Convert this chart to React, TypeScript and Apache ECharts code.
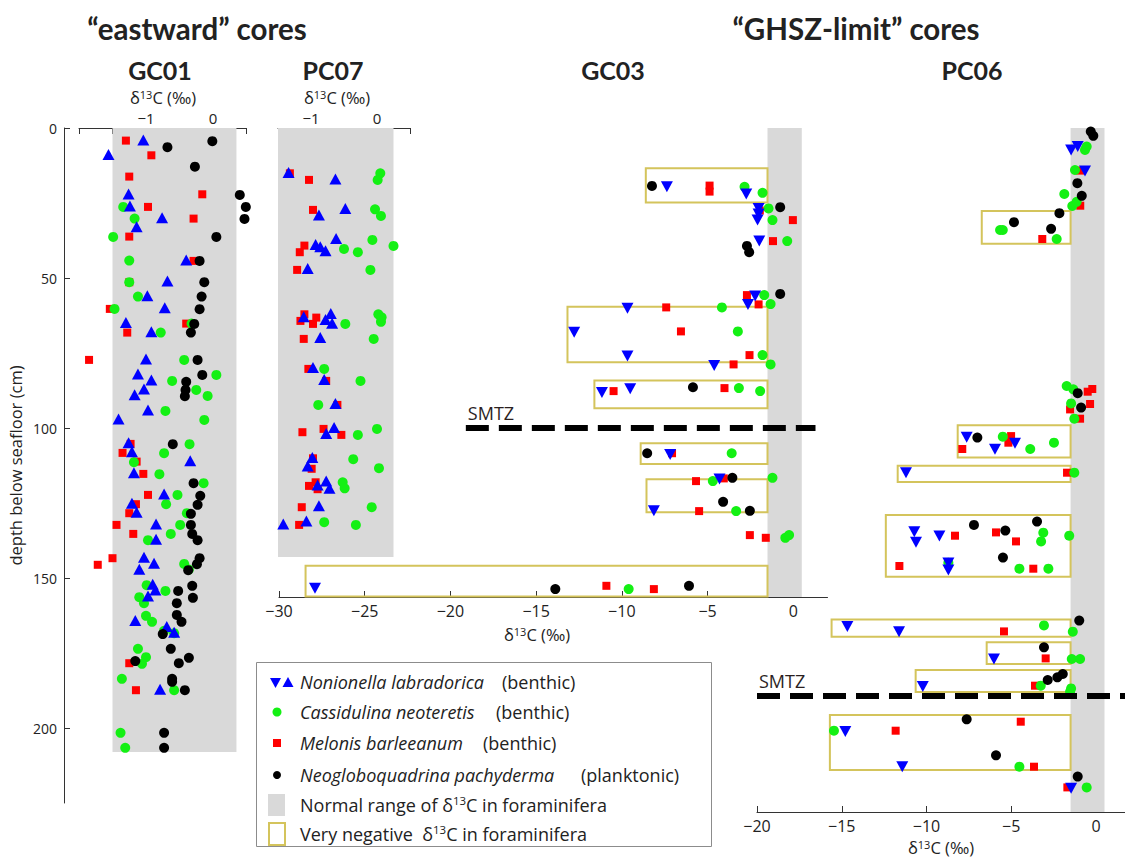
import React, { useEffect, useRef } from "react";
import * as echarts from "echarts";

type Pt = [number, number]; // [δ13C (‰), depth below seafloor (cm)]

// ---------------- GC01 ----------------
const gc01Nonionella: Pt[] = [
  [-1.04, 4.0], [-1.56, 8.8], [-1.26, 22], [-1.24, 26], [-0.76, 29.9], [-1.14, 32.9], [-0.4, 44], [-0.68, 51],
  [-0.98, 55.9], [-0.72, 59.9], [-1.3, 64.8], [-0.92, 67.9], [-1.0, 77], [-1.12, 82], [-0.92, 84], [-1.03, 87],
  [-1.17, 88.9], [-0.97, 94], [-1.41, 97], [-1.26, 104.9], [-1.21, 107.9], [-0.34, 110.9], [-1.18, 114.9],
  [-0.73, 122], [-1.21, 125.1], [-1.14, 128.1], [-0.85, 132], [-0.85, 137.1], [-1.03, 143.1], [-0.88, 145.1],
  [-1.1, 147.1], [-0.9, 152.1], [-0.86, 154], [-0.97, 156], [-1.16, 164.2], [-0.69, 166.2], [-0.58, 168.1],
  [-0.79, 187.1],
];
const gc01Cassidulina: Pt[] = [
  [-1.34, 26.3], [-1.17, 30.2], [-1.49, 36.3], [-1.25, 44.2], [-1.25, 51.4], [-1.12, 56.2], [-1.47, 60.3],
  [-0.32, 65.2], [-0.78, 68.2], [-0.43, 77.3], [0.05, 82.3], [-0.61, 84.3], [-0.25, 87.3], [-0.08, 89.3],
  [-0.71, 94.3], [-0.13, 97.3], [-0.35, 105.4], [-0.73, 108.4], [-1.18, 111.4], [-0.8, 115.4], [-0.14, 118.4],
  [-0.53, 122.3], [-0.7, 125.4], [-0.39, 128.4], [-0.49, 132.3], [-0.63, 135.3], [-0.97, 137.4], [-0.43, 145.3],
  [-0.36, 147.2], [-0.99, 152.4], [-0.71, 154.3], [-1.1, 156.4], [-1.03, 158.4], [-1.0, 162.6], [-0.91, 164.6],
  [-0.73, 167.6], [-0.58, 168.4], [-1.12, 173.6], [-1.0, 176.4], [-1.06, 178.6], [-1.36, 183.6], [-0.58, 187.4],
  [-1.38, 201.6], [-1.31, 206.6],
];
const gc01Melonis: Pt[] = [
  [-1.3, 4.2], [-0.92, 9.1], [-1.25, 16.2], [-0.16, 22.1], [-0.97, 26.3], [-0.29, 30.2], [-1.25, 36.2],
  [-0.29, 44.3], [-1.25, 51.4], [-1.54, 60.3], [-0.4, 65.2], [-1.28, 68.2], [-1.85, 77.3], [-1.23, 105.3],
  [-1.35, 108.3], [-1.14, 111.2], [-1.04, 115.3], [-0.97, 122.3], [-1.15, 125.4], [-1.25, 128.4], [-1.44, 132.3],
  [-1.19, 135.3], [-1.5, 143.4], [-1.72, 145.6], [-1.25, 178.4], [-1.15, 187.4],
];
const gc01Neogloboquadrina: Pt[] = [
  [-0.68, 6.4], [-0.01, 4.4], [-0.27, 12.9], [0.4, 22.3], [0.49, 26.3], [0.47, 30.3], [0.05, 36.3], [-0.2, 44.3],
  [-0.13, 51.4], [-0.17, 56.2], [-0.2, 60.4], [-0.28, 65.3], [-0.33, 68.2], [-0.23, 77.3], [-0.16, 82.3],
  [-0.4, 84.6], [-0.41, 87.3], [-0.42, 89.4], [-0.6, 105.4], [-0.29, 118.4], [-0.19, 122.6], [-0.23, 125.6],
  [-0.33, 128.6], [-0.33, 132.3], [-0.31, 135.3], [-0.23, 137.4], [-0.2, 143.4], [-0.24, 145.4], [-0.37, 147.4],
  [-0.31, 152.6], [-0.52, 154.3], [-0.3, 156.6], [-0.54, 158.4], [-0.54, 162.3], [-0.47, 164.6], [-0.75, 168.7],
  [-0.63, 173.6], [-1.16, 177.7], [-0.51, 178.4], [-0.36, 176.6], [-0.61, 183.6], [-0.61, 184.6], [-0.42, 187.4],
  [-0.73, 201.6], [-0.73, 206.6],
];

// ---------------- PC07 ----------------
const pc07Nonionella: Pt[] = [
  [-1.34, 14.8], [-0.63, 17], [-0.88, 29], [-0.48, 26.8], [-0.62, 36.8], [-0.93, 38.8], [-0.86, 39.6],
  [-0.78, 40.9], [-1.05, 46.8], [-1.11, 62.9], [-0.7, 61.8], [-0.78, 63.8], [-0.68, 65.1], [-0.86, 69.8],
  [-0.97, 79.8], [-0.8, 83.8], [-0.63, 91.8], [-0.65, 99.8], [-0.77, 101.8], [-0.98, 109.8], [-1.05, 112.7],
  [-0.77, 117.7], [-0.9, 119], [-0.72, 120.1], [-0.88, 125.9], [-1.42, 132], [-1.07, 131],
];
const pc07Cassidulina: Pt[] = [
  [0.05, 15.1], [0.01, 17.3], [-0.03, 27.1], [0.06, 29.3], [-0.07, 37.3], [0.25, 39.3], [-0.5, 40.3],
  [-0.29, 41.4], [-0.1, 47.3], [-0.48, 65.3], [0.02, 62.1], [0.07, 63.1], [0.06, 64.6], [-0.05, 70.3],
  [-0.8, 80.3], [-0.25, 84.3], [-0.89, 92.3], [-0.29, 102.3], [0.0, 100.3], [-0.36, 110.4], [0.03, 113.4],
  [-0.52, 118.1], [-0.49, 120.1], [-0.08, 126.4], [-0.8, 131.4], [-0.32, 132.3],
];
const pc07Melonis: Pt[] = [
  [-1.32, 15.1], [-1.03, 17.3], [-0.97, 27.3], [-1.1, 39.2], [-1.17, 41.4], [-1.21, 47.3], [-1.1, 62.1],
  [-1.16, 64.3], [-0.92, 63.2], [-0.97, 65.3], [-1.11, 70.3], [-1.04, 80.3], [-0.77, 84.3], [-0.6, 92.3],
  [-1.13, 101.4], [-0.81, 100.3], [-0.54, 102.3], [-0.97, 110.1], [-0.99, 113.6], [-0.93, 118.1], [-1.03, 119.3],
  [-0.9, 120.4], [-1.14, 126.4], [-1.18, 132.3],
];
const pc07Neogloboquadrina: Pt[] = [];

// ---------------- GC03 ----------------
const gc03Nonionella: Pt[] = [
  [-7.37, 19.6], [-2.74, 22], [-2.02, 26.8], [-2.02, 28.7], [-2.08, 30.7], [-1.98, 37.7], [-2.22, 56],
  [-2.64, 58.8], [-9.67, 60.1], [-12.78, 68.1], [-9.67, 76], [-4.61, 79.2], [-11.16, 88.2], [-9.51, 86.9],
  [-7.18, 108.8], [-4.3, 117], [-8.13, 127.6], [-27.9, 153.4],
];
const gc03Cassidulina: Pt[] = [
  [-2.84, 19.6], [-1.79, 21.6], [-1.44, 26.8], [-1.21, 30.7], [-0.35, 37.7], [-1.69, 55.7], [-1.32, 58.7],
  [-4.16, 59.8], [-3.23, 67.8], [-1.79, 75.7], [-1.32, 78.8], [-3.17, 86.7], [-1.93, 87.7], [-3.59, 108.4],
  [-4.69, 117.7], [-1.21, 116.6], [-3.33, 127.7], [-0.46, 136.6], [-0.24, 135.7], [-9.6, 153.7],
];
const gc03Melonis: Pt[] = [
  [-4.88, 19.2], [-4.88, 21.2], [-1.95, 27.5], [-0.02, 30.7], [-1.18, 37.7], [-2.7, 55.7], [-2.02, 58.8],
  [-7.41, 59.8], [-6.55, 67.8], [-2.55, 75.7], [-3.48, 78.8], [-10.48, 87.7], [-4.01, 86.7], [-7.07, 108.4],
  [-5.67, 117.7], [-4.05, 116.8], [-5.49, 127.7], [-2.53, 135.7], [-1.6, 136.6], [-10.9, 152.6], [-8.13, 153.7],
];
const gc03Neogloboquadrina: Pt[] = [
  [-8.24, 19.3], [-0.76, 26.4], [-2.7, 39.3], [-2.57, 41.4], [-0.76, 55.3], [-5.85, 86.4], [-8.52, 108.4],
  [-3.55, 116.6], [-4.09, 124.6], [-2.53, 127.6], [-13.88, 153.7], [-6.08, 152.6],
];

// ---------------- PC06 ----------------
const pc06Nonionella: Pt[] = [
  [-1.47, 7.3], [-1.08, 6.2], [-0.65, 14.3], [-7.63, 103.1], [-4.78, 105.1], [-5.96, 107.1], [-11.21, 114.9],
  [-10.72, 134.6], [-10.62, 138.1], [-9.24, 136], [-8.71, 145], [-8.71, 147.3], [-14.67, 166.2], [-11.62, 167.9],
  [-6.02, 177], [-10.22, 186.2], [-14.79, 201.2], [-11.43, 212.9], [-1.47, 220.1],
];
const pc06Cassidulina: Pt[] = [
  [-0.55, 6.2], [-0.65, 7.3], [-1.24, 14], [-1.87, 22], [-1.4, 26], [-1.14, 24.6], [-5.66, 34], [-5.5, 34],
  [-2.32, 37], [-1.73, 86], [-1.34, 87.1], [-1.47, 91.8], [-1.28, 96.9], [-5.5, 102.9], [-3.88, 107],
  [-2.48, 104.9], [-1.28, 114.9], [-3.11, 134.9], [-3.24, 137.8], [-1.58, 135.9], [-8.71, 144.9], [-4.52, 146.9],
  [-2.81, 146.9], [-3.07, 165.8], [-1.37, 167.9], [-1.43, 177], [-0.94, 177], [-3.26, 185.9], [-1.47, 186.8],
  [-1.53, 187.9], [-15.46, 200.9], [-4.52, 212.9], [-0.55, 219.8],
];
const pc06Melonis: Pt[] = [
  [-0.94, 14.2], [-0.93, 25.9], [-3.17, 37], [-0.49, 87.9], [-0.22, 87], [-0.35, 92], [-1.53, 93.8],
  [-0.94, 96.9], [-5.01, 102.7], [-5.17, 104.9], [-7.89, 107], [-1.71, 114.9], [-8.32, 135.9], [-5.9, 134.8],
  [-4.72, 137.8], [-11.6, 146], [-3.7, 146.9], [-5.43, 167.8], [-2.97, 176.8], [-3.6, 185.9], [-4.44, 197.9],
  [-11.82, 200.9], [-3.66, 212.9], [-1.69, 219.8],
];
const pc06Neogloboquadrina: Pt[] = [
  [-0.31, 1.2], [-0.16, 2.6], [-1.1, 18.4], [-0.84, 22.6], [-2.16, 28.4], [-4.84, 31.4], [-2.65, 33.6],
  [-1.08, 88.4], [-0.88, 93.2], [-7.0, 103.2], [-7.2, 132.3], [-5.35, 134.2], [-3.48, 131.2], [-5.49, 143.2],
  [-0.99, 164.2], [-3.07, 173.1], [-1.96, 182], [-2.28, 183.1], [-2.85, 184], [-7.63, 197.1], [-5.9, 209.1],
  [-1.08, 216.2],
];

// ranges: [δ13C min, δ13C max, depth top, depth bottom]
const gc01Normal = [-1.5, 0.35, 0, 208];
const pc07Normal = [-1.5, 0.25, 0, 143];
const gc03Normal = [-1.5, 0.5, 0, 156.33];
const pc06Normal = [-1.5, 0.5, 0, 228];
const gc03Negative = [
  [-8.6, -1.5, 13.4, 24.8], [-13.17, -1.5, 59.6, 78.1], [-11.6, -1.5, 84.2, 93.4],
  [-8.9, -1.5, 105.1, 112], [-8.56, -1.5, 117.1, 128.1], [-28.45, -1.5, 145.9, 156.2],
];
const pc06Negative = [
  [-6.74, -1.5, 27.7, 38.6], [-8.16, -1.5, 99.1, 109.8], [-11.7, -1.5, 112.6, 118], [-12.4, -1.5, 129, 149.6],
  [-15.6, -1.5, 163.8, 169.6], [-6.45, -1.5, 171.4, 178.7], [-10.64, -1.5, 180.7, 188], [-15.7, -1.5, 195.7, 214],
];
// SMTZ: [δ13C start, δ13C end, depth]
const gc03Smtz = [-19.1, 1.3, 100];
const pc06Smtz = [-20, 1.71, 189.3];

// axis ticks
const depthTicks = [0, 50, 100, 150, 200];
const gc01Ticks = [-2, -1.5, -1, -0.5, 0, 0.5];
const pc07Ticks = [-1.5, -1, -0.5, 0, 0.5];
const eastLabels = [-1, 0];
const gc03Ticks = [-30, -25, -20, -15, -10, -5, 0];
const pc06Ticks = [-20, -15, -10, -5, 0];

const BLUE = "#0000ff";
const GREEN = "#14f014";
const RED = "#ff0000";
const BLACK = "#000000";
const GRAY = "#d9d9d9";
const YELLOW = "#d4c45c";
const TXT = "#222222";
const FONT = "Lato, 'Open Sans', sans-serif";
const TFONT = "'Open Sans', 'Noto Sans', sans-serif";

const minus = (v: number) => (v < 0 ? "\u2212" + Math.abs(v) : String(v));

function xAxisDef(grid: number, pos: "top" | "bottom", min: number, max: number, interval: number, ticks: number[], labels: number[], margin: number) {
  return {
    type: "value",
    gridIndex: grid,
    position: pos,
    min,
    max,
    interval,
    splitLine: { show: false },
    axisLine: { show: true, onZero: false, lineStyle: { color: "#333", width: 1 } },
    axisTick: { show: true, inside: true, length: 6, customValues: ticks, lineStyle: { color: "#333" } },
    axisLabel: {
      show: true,
      customValues: labels,
      formatter: minus,
      margin,
      color: TXT,
      fontSize: pos === "top" ? 15 : 16,
      lineHeight: pos === "top" ? 15 : 16,
      fontFamily: TFONT,
    },
  };
}

function areaItems(normal: number[], boxes: number[][]) {
  const items: any[] = [
    [
      { coord: [normal[0], normal[2]], itemStyle: { color: GRAY, borderWidth: 0 } },
      { coord: [normal[1], normal[3]] },
    ],
  ];
  boxes.forEach((b) => {
    items.push([
      { coord: [b[0], b[2]], itemStyle: { color: "rgba(0,0,0,0)", borderColor: YELLOW, borderWidth: 2 } },
      { coord: [b[1], b[3]] },
    ]);
  });
  return items;
}

function panel(idx: number, non: Pt[], cas: Pt[], mel: Pt[], neo: Pt[], normal: number[], boxes: number[][], smtz: number[] | null, down: boolean) {
  const base = { type: "scatter", xAxisIndex: idx, yAxisIndex: idx, silent: true, animation: false };
  const list: any[] = [
    {
      ...base,
      name: "Melonis barleeanum",
      data: mel,
      symbol: "rect",
      symbolSize: 8,
      itemStyle: { color: RED, opacity: 1 },
      z: 2,
      markArea: { silent: true, animation: false, data: areaItems(normal, boxes) },
    },
    { ...base, name: "Cassidulina neoteretis", data: cas, symbol: "circle", symbolSize: 10, itemStyle: { color: GREEN, opacity: 1 }, z: 3 },
    {
      ...base,
      name: "Nonionella labradorica",
      data: non,
      symbol: "triangle",
      symbolSize: [12, 11],
      symbolRotate: down ? 180 : 0,
      itemStyle: { color: BLUE, opacity: 1 },
      z: 4,
    },
    { ...base, name: "Neogloboquadrina pachyderma", data: neo, symbol: "circle", symbolSize: 10, itemStyle: { color: BLACK, opacity: 1 }, z: 5 },
  ];
  if (smtz) {
    list[3].markLine = {
      silent: true,
      animation: false,
      symbol: ["none", "none"],
      lineStyle: { color: "#000", width: 6, type: [23, 10] },
      label: { show: true, position: "insideStartTop", formatter: "SMTZ", fontSize: 18, color: "#2b1f1f", fontFamily: TFONT, distance: [2, 6] },
      data: [[{ coord: [smtz[0], smtz[2]] }, { coord: [smtz[1], smtz[2]] }]],
    };
  }
  return list;
}

function d13c(x: number, y: number) {
  return {
    type: "text",
    x,
    y,
    style: {
      text: "{n|\u03b4}{s|13}{n|C (\u2030)}",
      align: "center",
      verticalAlign: "middle",
      fill: TXT,
      rich: {
        n: { fontSize: 16.5, fontFamily: TFONT, fill: TXT, lineHeight: 17 },
        s: { fontSize: 11, fontFamily: TFONT, fill: TXT, lineHeight: 9, verticalAlign: "top" },
      },
    },
  };
}

function title(text: string, x: number, y: number, size: number) {
  return { type: "text", x, y, style: { text, align: "center", verticalAlign: "middle", fontSize: size, fontWeight: "bold", fontFamily: FONT, fill: TXT } };
}

const LFONT = TFONT;
const LSIZE = 18;

function legendText(text: string, x: number, y: number, italic: boolean) {
  return { type: "text", x, y, style: { text, align: "left", verticalAlign: "middle", fontSize: LSIZE, fontStyle: italic ? "italic" : "normal", fontFamily: LFONT, fill: TXT } };
}

function legendRich(pre: string, post: string, x: number, y: number) {
  return {
    type: "text",
    x,
    y,
    style: {
      text: `{n|${pre}}{s|13}{n|${post}}`,
      align: "left",
      verticalAlign: "middle",
      fill: TXT,
      rich: {
        n: { fontSize: LSIZE, fontFamily: LFONT, fill: TXT, lineHeight: 22 },
        s: { fontSize: 11.5, fontFamily: LFONT, fill: TXT, lineHeight: 11, verticalAlign: "top" },
      },
    },
  };
}

const legendRows = [682, 712, 743, 775, 805, 834];

const graphics: any[] = [
  title("\u201ceastward\u201d cores", 197, 28, 29.5),
  title("\u201cGHSZ-limit\u201d cores", 856, 28, 29.5),
  title("GC01", 160, 70, 25),
  title("PC07", 333, 70, 25),
  title("GC03", 613, 70, 25),
  title("PC06", 972, 70, 25),
  d13c(163, 97),
  d13c(337, 97),
  d13c(537, 634),
  d13c(941, 847),
  // legend
  { type: "rect", shape: { x: 256.5, y: 662.5, width: 455, height: 184 }, style: { fill: "#fff", stroke: "#8c8c8c", lineWidth: 1 } },
  { type: "polygon", shape: { points: [[270, 678], [281, 678], [275.5, 688]] }, style: { fill: BLUE } },
  { type: "polygon", shape: { points: [[282.5, 687], [293.5, 687], [288, 677]] }, style: { fill: BLUE } },
  { type: "circle", shape: { cx: 277, cy: legendRows[1], r: 4.5 }, style: { fill: GREEN } },
  { type: "rect", shape: { x: 273, y: legendRows[2] - 4, width: 8, height: 8 }, style: { fill: RED } },
  { type: "circle", shape: { cx: 277, cy: legendRows[3], r: 4 }, style: { fill: BLACK } },
  { type: "rect", shape: { x: 268, y: 794, width: 17, height: 22 }, style: { fill: GRAY } },
  { type: "rect", shape: { x: 269, y: 823, width: 16, height: 22 }, style: { fill: "none", stroke: YELLOW, lineWidth: 2 } },
  legendText("Nonionella labradorica", 300, legendRows[0], true),
  legendText("(benthic)", 502, legendRows[0], false),
  legendText("Cassidulina neoteretis", 300, legendRows[1], true),
  legendText("(benthic)", 496, legendRows[1], false),
  legendText("Melonis barleeanum", 300, legendRows[2], true),
  legendText("(benthic)", 483, legendRows[2], false),
  legendText("Neogloboquadrina pachyderma", 300, legendRows[3], true),
  legendText("(planktonic)", 581, legendRows[3], false),
  legendRich("Normal range of \u03b4", "C in foraminifera", 300, legendRows[4]),
  legendRich("Very negative  \u03b4", "C in foraminifera", 300, legendRows[5]),
];

const option: any = {
  animation: false,
  backgroundColor: "#ffffff",
  grid: [
    { left: 79, top: 128, width: 167.5, height: 675 },
    { left: 278, top: 128, width: 132, height: 429 },
    { left: 279, top: 128, width: 548.5, height: 469 },
    { left: 757, top: 128, width: 368, height: 684 },
  ],
  xAxis: [
    xAxisDef(0, "top", -2, 0.5, 0.5, gc01Ticks, eastLabels, 3),
    xAxisDef(1, "top", -1.5, 0.5, 0.5, pc07Ticks, eastLabels, 3),
    xAxisDef(2, "bottom", -30, 2, 5, gc03Ticks, gc03Ticks, 6),
    xAxisDef(3, "bottom", -20, 1.71, 5, pc06Ticks, pc06Ticks, 6),
  ],
  yAxis: [
    {
      type: "value",
      gridIndex: 0,
      inverse: true,
      min: 0,
      max: 225,
      interval: 50,
      offset: 15,
      position: "left",
      name: "depth below seafloor (cm)",
      nameLocation: "middle",
      nameGap: 40,
      nameRotate: 90,
      nameTextStyle: { fontSize: 16.5, color: TXT, fontFamily: TFONT },
      splitLine: { show: false },
      axisLine: { show: true, onZero: false, lineStyle: { color: "#333", width: 1 } },
      axisTick: { show: true, inside: true, length: 6, customValues: depthTicks, lineStyle: { color: "#333" } },
      axisLabel: { customValues: depthTicks, margin: 7, color: TXT, fontSize: 14, fontFamily: TFONT },
    },
    { type: "value", gridIndex: 1, inverse: true, min: 0, max: 143, show: false },
    { type: "value", gridIndex: 2, inverse: true, min: 0, max: 156.33, show: false },
    { type: "value", gridIndex: 3, inverse: true, min: 0, max: 228, show: false },
  ],
  series: [
    ...panel(0, gc01Nonionella, gc01Cassidulina, gc01Melonis, gc01Neogloboquadrina, gc01Normal, [], null, false),
    ...panel(1, pc07Nonionella, pc07Cassidulina, pc07Melonis, pc07Neogloboquadrina, pc07Normal, [], null, false),
    ...panel(2, gc03Nonionella, gc03Cassidulina, gc03Melonis, gc03Neogloboquadrina, gc03Normal, gc03Negative, gc03Smtz, true),
    ...panel(3, pc06Nonionella, pc06Cassidulina, pc06Melonis, pc06Neogloboquadrina, pc06Normal, pc06Negative, pc06Smtz, true),
  ],
  graphic: graphics,
};

export default function App() {
  const ref = useRef<HTMLDivElement>(null);
  useEffect(() => {
    document.body.style.margin = "0";
    const chart = echarts.init(ref.current!, null, { renderer: "svg" });
    chart.setOption(option);
    return () => chart.dispose();
  }, []);
  return <div ref={ref} style={{ width: 1125, height: 857 }} />;
}
